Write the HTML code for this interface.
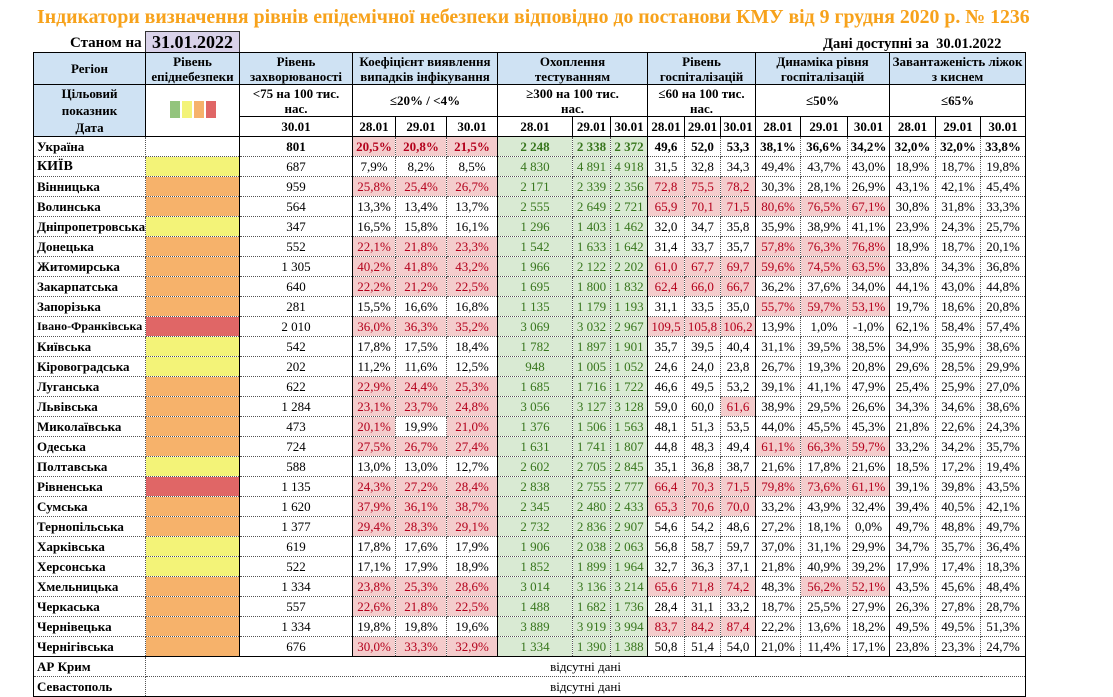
<!DOCTYPE html>
<html><head><meta charset="utf-8">
<style>
body{margin:0;width:1113px;height:697px;background:#fff;position:relative;overflow:hidden;font-family:"Liberation Serif","DejaVu Serif",serif;color:#000}
.title{position:absolute;left:37px;top:6px;white-space:nowrap;color:#f7a21b;font-weight:bold;font-size:19.8px}
.st{position:absolute;left:70px;top:35px;font-weight:bold;font-size:15px}
.dt{position:absolute;left:145px;top:31px;width:93px;height:20px;background:#d9d2e9;border:1px solid #333;border-bottom:none;font-weight:bold;font-size:18px;text-align:center;line-height:20px}
.da{position:absolute;left:823px;top:36px;font-weight:bold;font-size:14.5px}
table{position:absolute;left:33px;top:52px;width:992px;border-collapse:collapse;table-layout:fixed;font-size:13px}
td{padding:0;text-align:center;white-space:nowrap;overflow:hidden;border-right:1px dotted #555;border-bottom:1px dotted #555;line-height:15px}
thead td{border:1px solid #000;font-weight:bold;line-height:15px}
.h{background:#cfe2f3}
td.n{text-align:left;padding-left:3px;font-weight:bold;border-left:1px solid #000}
.s{border-right:1px solid #000}
.r{background:#f4cccc;color:#b3001b}
.g{background:#d9ead3;color:#38761d}
.Y{background:#f3f378}.O{background:#f6b26b}.R{background:#e06666}
tbody tr{height:20px}
.u td{font-weight:bold}
.last td{border-bottom:1px solid #000}
.sq{display:inline-block;width:10px;height:17px;margin:0 1px}
</style></head><body>
<div class="title">Індикатори визначення рівнів епідемічної небезпеки відповідно до постанови КМУ від 9 грудня 2020 р. № 1236</div>
<div class="st">Станом на</div>
<div class="dt">31.01.2022</div>
<div class="da">Дані доступні за&nbsp; 30.01.2022</div>
<table>
<colgroup><col style="width:112px"><col style="width:94px"><col style="width:113px"><col style="width:43px"><col style="width:51px"><col style="width:51px"><col style="width:75px"><col style="width:38px"><col style="width:37px"><col style="width:37px"><col style="width:36px"><col style="width:35px"><col style="width:45px"><col style="width:47px"><col style="width:42px"><col style="width:46px"><col style="width:45px"><col style="width:45px"></colgroup>
<thead>
<tr style="height:32px"><td class="h">Регіон</td><td class="h">Рівень<br>епіднебезпеки</td><td class="h">Рівень<br>захворюваності</td><td class="h" colspan="3">Коефіцієнт виявлення<br>випадків інфікування</td><td class="h" colspan="3">Охоплення<br>тестуванням</td><td class="h" colspan="3">Рівень<br>госпіталізацій</td><td class="h" colspan="3">Динаміка рівня<br>госпіталізацій</td><td class="h" colspan="3">Завантаженість ліжок<br>з киснем</td></tr>
<tr style="height:32px"><td class="h" rowspan="2" style="line-height:17px">Цільовий<br>показник<br>Дата</td><td rowspan="2"><span class="sq" style="background:#93c47d"></span><span class="sq" style="background:#f3f378"></span><span class="sq" style="background:#f6b26b"></span><span class="sq" style="background:#e06666"></span></td><td>&lt;75 на 100 тис.<br>нас.</td><td colspan="3">≤20% / &lt;4%</td><td colspan="3">≥300 на 100 тис.<br>нас.</td><td colspan="3">≤60 на 100 тис.<br>нас.</td><td colspan="3">≤50%</td><td colspan="3">≤65%</td></tr>
<tr style="height:20px"><td>30.01</td><td>28.01</td><td>29.01</td><td>30.01</td><td>28.01</td><td>29.01</td><td>30.01</td><td>28.01</td><td>29.01</td><td>30.01</td><td>28.01</td><td>29.01</td><td>30.01</td><td>28.01</td><td>29.01</td><td>30.01</td></tr>
</thead>
<tbody>
<tr class="u"><td class="n">Україна</td><td class="s"></td><td class="s">801</td><td class="r">20,5%</td><td class="r">20,8%</td><td class="r s">21,5%</td><td class="g">2 248</td><td class="g">2 338</td><td class="g s">2 372</td><td>49,6</td><td>52,0</td><td class="s">53,3</td><td>38,1%</td><td>36,6%</td><td class="s">34,2%</td><td>32,0%</td><td>32,0%</td><td class="s">33,8%</td></tr>
<tr><td class="n" style="font-size:14px">КИЇВ</td><td class="Y s"></td><td class="s">687</td><td>7,9%</td><td>8,2%</td><td class="s">8,5%</td><td class="g">4 830</td><td class="g">4 891</td><td class="g s">4 918</td><td>31,5</td><td>32,8</td><td class="s">34,3</td><td>49,4%</td><td>43,7%</td><td class="s">43,0%</td><td>18,9%</td><td>18,7%</td><td class="s">19,8%</td></tr>
<tr><td class="n">Вінницька</td><td class="O s"></td><td class="s">959</td><td class="r">25,8%</td><td class="r">25,4%</td><td class="r s">26,7%</td><td class="g">2 171</td><td class="g">2 339</td><td class="g s">2 356</td><td class="r">72,8</td><td class="r">75,5</td><td class="r s">78,2</td><td>30,3%</td><td>28,1%</td><td class="s">26,9%</td><td>43,1%</td><td>42,1%</td><td class="s">45,4%</td></tr>
<tr><td class="n">Волинська</td><td class="O s"></td><td class="s">564</td><td>13,3%</td><td>13,4%</td><td class="s">13,7%</td><td class="g">2 555</td><td class="g">2 649</td><td class="g s">2 721</td><td class="r">65,9</td><td class="r">70,1</td><td class="r s">71,5</td><td class="r">80,6%</td><td class="r">76,5%</td><td class="r s">67,1%</td><td>30,8%</td><td>31,8%</td><td class="s">33,3%</td></tr>
<tr><td class="n">Дніпропетровська</td><td class="Y s"></td><td class="s">347</td><td>16,5%</td><td>15,8%</td><td class="s">16,1%</td><td class="g">1 296</td><td class="g">1 403</td><td class="g s">1 462</td><td>32,0</td><td>34,7</td><td class="s">35,8</td><td>35,9%</td><td>38,9%</td><td class="s">41,1%</td><td>23,9%</td><td>24,3%</td><td class="s">25,7%</td></tr>
<tr><td class="n">Донецька</td><td class="O s"></td><td class="s">552</td><td class="r">22,1%</td><td class="r">21,8%</td><td class="r s">23,3%</td><td class="g">1 542</td><td class="g">1 633</td><td class="g s">1 642</td><td>31,4</td><td>33,7</td><td class="s">35,7</td><td class="r">57,8%</td><td class="r">76,3%</td><td class="r s">76,8%</td><td>18,9%</td><td>18,7%</td><td class="s">20,1%</td></tr>
<tr><td class="n">Житомирська</td><td class="O s"></td><td class="s">1 305</td><td class="r">40,2%</td><td class="r">41,8%</td><td class="r s">43,2%</td><td class="g">1 966</td><td class="g">2 122</td><td class="g s">2 202</td><td class="r">61,0</td><td class="r">67,7</td><td class="r s">69,7</td><td class="r">59,6%</td><td class="r">74,5%</td><td class="r s">63,5%</td><td>33,8%</td><td>34,3%</td><td class="s">36,8%</td></tr>
<tr><td class="n">Закарпатська</td><td class="O s"></td><td class="s">640</td><td class="r">22,2%</td><td class="r">21,2%</td><td class="r s">22,5%</td><td class="g">1 695</td><td class="g">1 800</td><td class="g s">1 832</td><td class="r">62,4</td><td class="r">66,0</td><td class="r s">66,7</td><td>36,2%</td><td>37,6%</td><td class="s">34,0%</td><td>44,1%</td><td>43,0%</td><td class="s">44,8%</td></tr>
<tr><td class="n">Запорізька</td><td class="O s"></td><td class="s">281</td><td>15,5%</td><td>16,6%</td><td class="s">16,8%</td><td class="g">1 135</td><td class="g">1 179</td><td class="g s">1 193</td><td>31,1</td><td>33,5</td><td class="s">35,0</td><td class="r">55,7%</td><td class="r">59,7%</td><td class="r s">53,1%</td><td>19,7%</td><td>18,6%</td><td class="s">20,8%</td></tr>
<tr><td class="n" style="font-size:12px">Івано-Франківська</td><td class="R s"></td><td class="s">2 010</td><td class="r">36,0%</td><td class="r">36,3%</td><td class="r s">35,2%</td><td class="g">3 069</td><td class="g">3 032</td><td class="g s">2 967</td><td class="r">109,5</td><td class="r">105,8</td><td class="r s">106,2</td><td>13,9%</td><td>1,0%</td><td class="s">-1,0%</td><td>62,1%</td><td>58,4%</td><td class="s">57,4%</td></tr>
<tr><td class="n">Київська</td><td class="Y s"></td><td class="s">542</td><td>17,8%</td><td>17,5%</td><td class="s">18,4%</td><td class="g">1 782</td><td class="g">1 897</td><td class="g s">1 901</td><td>35,7</td><td>39,5</td><td class="s">40,4</td><td>31,1%</td><td>39,5%</td><td class="s">38,5%</td><td>34,9%</td><td>35,9%</td><td class="s">38,6%</td></tr>
<tr><td class="n">Кіровоградська</td><td class="Y s"></td><td class="s">202</td><td>11,2%</td><td>11,6%</td><td class="s">12,5%</td><td class="g">948</td><td class="g">1 005</td><td class="g s">1 052</td><td>24,6</td><td>24,0</td><td class="s">23,8</td><td>26,7%</td><td>19,3%</td><td class="s">20,8%</td><td>29,6%</td><td>28,5%</td><td class="s">29,9%</td></tr>
<tr><td class="n">Луганська</td><td class="O s"></td><td class="s">622</td><td class="r">22,9%</td><td class="r">24,4%</td><td class="r s">25,3%</td><td class="g">1 685</td><td class="g">1 716</td><td class="g s">1 722</td><td>46,6</td><td>49,5</td><td class="s">53,2</td><td>39,1%</td><td>41,1%</td><td class="s">47,9%</td><td>25,4%</td><td>25,9%</td><td class="s">27,0%</td></tr>
<tr><td class="n">Львівська</td><td class="O s"></td><td class="s">1 284</td><td class="r">23,1%</td><td class="r">23,7%</td><td class="r s">24,8%</td><td class="g">3 056</td><td class="g">3 127</td><td class="g s">3 128</td><td>59,0</td><td>60,0</td><td class="r s">61,6</td><td>38,9%</td><td>29,5%</td><td class="s">26,6%</td><td>34,3%</td><td>34,6%</td><td class="s">38,6%</td></tr>
<tr><td class="n">Миколаївська</td><td class="O s"></td><td class="s">473</td><td class="r">20,1%</td><td>19,9%</td><td class="r s">21,0%</td><td class="g">1 376</td><td class="g">1 506</td><td class="g s">1 563</td><td>48,1</td><td>51,3</td><td class="s">53,5</td><td>44,0%</td><td>45,5%</td><td class="s">45,3%</td><td>21,8%</td><td>22,6%</td><td class="s">24,3%</td></tr>
<tr><td class="n">Одеська</td><td class="O s"></td><td class="s">724</td><td class="r">27,5%</td><td class="r">26,7%</td><td class="r s">27,4%</td><td class="g">1 631</td><td class="g">1 741</td><td class="g s">1 807</td><td>44,8</td><td>48,3</td><td class="s">49,4</td><td class="r">61,1%</td><td class="r">66,3%</td><td class="r s">59,7%</td><td>33,2%</td><td>34,2%</td><td class="s">35,7%</td></tr>
<tr><td class="n">Полтавська</td><td class="Y s"></td><td class="s">588</td><td>13,0%</td><td>13,0%</td><td class="s">12,7%</td><td class="g">2 602</td><td class="g">2 705</td><td class="g s">2 845</td><td>35,1</td><td>36,8</td><td class="s">38,7</td><td>21,6%</td><td>17,8%</td><td class="s">21,6%</td><td>18,5%</td><td>17,2%</td><td class="s">19,4%</td></tr>
<tr><td class="n">Рівненська</td><td class="R s"></td><td class="s">1 135</td><td class="r">24,3%</td><td class="r">27,2%</td><td class="r s">28,4%</td><td class="g">2 838</td><td class="g">2 755</td><td class="g s">2 777</td><td class="r">66,4</td><td class="r">70,3</td><td class="r s">71,5</td><td class="r">79,8%</td><td class="r">73,6%</td><td class="r s">61,1%</td><td>39,1%</td><td>39,8%</td><td class="s">43,5%</td></tr>
<tr><td class="n">Сумська</td><td class="O s"></td><td class="s">1 620</td><td class="r">37,9%</td><td class="r">36,1%</td><td class="r s">38,7%</td><td class="g">2 345</td><td class="g">2 480</td><td class="g s">2 433</td><td class="r">65,3</td><td class="r">70,6</td><td class="r s">70,0</td><td>33,2%</td><td>43,9%</td><td class="s">32,4%</td><td>39,4%</td><td>40,5%</td><td class="s">42,1%</td></tr>
<tr><td class="n">Тернопільська</td><td class="O s"></td><td class="s">1 377</td><td class="r">29,4%</td><td class="r">28,3%</td><td class="r s">29,1%</td><td class="g">2 732</td><td class="g">2 836</td><td class="g s">2 907</td><td>54,6</td><td>54,2</td><td class="s">48,6</td><td>27,2%</td><td>18,1%</td><td class="s">0,0%</td><td>49,7%</td><td>48,8%</td><td class="s">49,7%</td></tr>
<tr><td class="n">Харківська</td><td class="Y s"></td><td class="s">619</td><td>17,8%</td><td>17,6%</td><td class="s">17,9%</td><td class="g">1 906</td><td class="g">2 038</td><td class="g s">2 063</td><td>56,8</td><td>58,7</td><td class="s">59,7</td><td>37,0%</td><td>31,1%</td><td class="s">29,9%</td><td>34,7%</td><td>35,7%</td><td class="s">36,4%</td></tr>
<tr><td class="n">Херсонська</td><td class="Y s"></td><td class="s">522</td><td>17,1%</td><td>17,9%</td><td class="s">18,9%</td><td class="g">1 852</td><td class="g">1 899</td><td class="g s">1 964</td><td>32,7</td><td>36,3</td><td class="s">37,1</td><td>21,8%</td><td>40,9%</td><td class="s">39,2%</td><td>17,9%</td><td>17,4%</td><td class="s">18,3%</td></tr>
<tr><td class="n">Хмельницька</td><td class="O s"></td><td class="s">1 334</td><td class="r">23,8%</td><td class="r">25,3%</td><td class="r s">28,6%</td><td class="g">3 014</td><td class="g">3 136</td><td class="g s">3 214</td><td class="r">65,6</td><td class="r">71,8</td><td class="r s">74,2</td><td>48,3%</td><td class="r">56,2%</td><td class="r s">52,1%</td><td>43,5%</td><td>45,6%</td><td class="s">48,4%</td></tr>
<tr><td class="n">Черкаська</td><td class="O s"></td><td class="s">557</td><td class="r">22,6%</td><td class="r">21,8%</td><td class="r s">22,5%</td><td class="g">1 488</td><td class="g">1 682</td><td class="g s">1 736</td><td>28,4</td><td>31,1</td><td class="s">33,2</td><td>18,7%</td><td>25,5%</td><td class="s">27,9%</td><td>26,3%</td><td>27,8%</td><td class="s">28,7%</td></tr>
<tr><td class="n">Чернівецька</td><td class="O s"></td><td class="s">1 334</td><td>19,8%</td><td>19,8%</td><td class="s">19,6%</td><td class="g">3 889</td><td class="g">3 919</td><td class="g s">3 994</td><td class="r">83,7</td><td class="r">84,2</td><td class="r s">87,4</td><td>22,2%</td><td>13,6%</td><td class="s">18,2%</td><td>49,5%</td><td>49,5%</td><td class="s">51,3%</td></tr>
<tr style="border-bottom:1px solid #000"><td class="n" style="border-bottom:1px solid #000">Чернігівська</td><td class="O s" style="border-bottom:1px solid #000"></td><td class="s">676</td><td class="r">30,0%</td><td class="r">33,3%</td><td class="r s">32,9%</td><td class="g">1 334</td><td class="g">1 390</td><td class="g s">1 388</td><td>50,8</td><td>51,4</td><td class="s">54,0</td><td>21,0%</td><td>11,4%</td><td class="s">17,1%</td><td>23,8%</td><td>23,3%</td><td class="s">24,7%</td></tr>
<tr><td class="n">АР Крим</td><td class="s" colspan="17">відсутні дані</td></tr>
<tr class="last"><td class="n">Севастополь</td><td class="s" colspan="17">відсутні дані</td></tr>
</tbody>
</table>
</body></html>
